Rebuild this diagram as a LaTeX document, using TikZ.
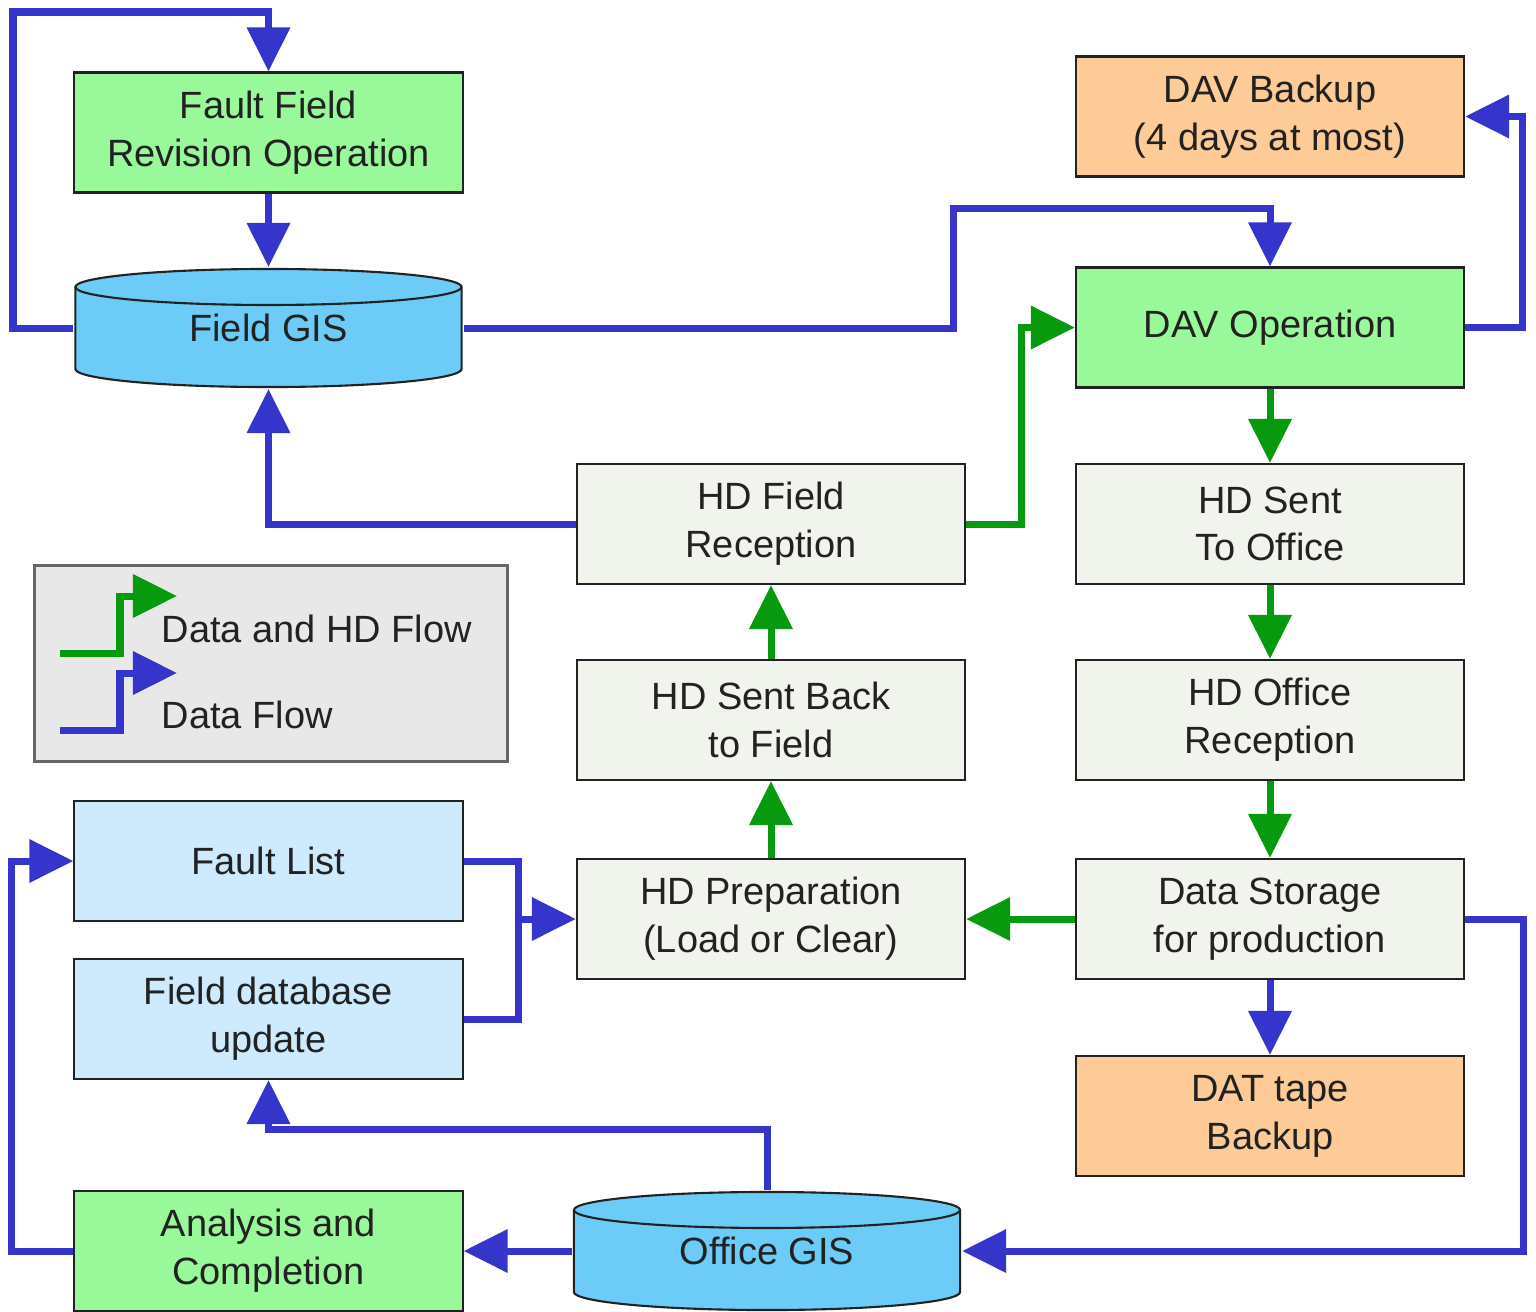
\documentclass[tikz,border=0pt]{standalone}
\usepackage{fontspec}
\setmainfont{Liberation Sans}
\usepackage{xcolor}
\usepackage{tikz}
\usetikzlibrary{arrows.meta,positioning,calc}
\definecolor{opgreen}{HTML}{99F899}
\definecolor{gisblue}{HTML}{6CCCF7}
\definecolor{listblue}{HTML}{CDEBFD}
\definecolor{backup}{HTML}{FCCB98}
\definecolor{hdstep}{HTML}{F1F4EC}
\definecolor{legendgray}{HTML}{E8E8E8}
\definecolor{dataflow}{HTML}{3535CC}
\definecolor{hdflow}{HTML}{079A0F}
\definecolor{ink}{HTML}{222222}

\tikzset{
  box/.style={draw=ink, line width=0.6pt, minimum width=3.88cm, minimum height=1.2cm,
    inner sep=0pt, align=center, text=ink, font=\fontsize{10.8}{13.6}\selectfont},
  gisdb/.style={box, draw=none, path picture={
    \draw[ink, line width=0.6pt, fill=gisblue]
      ([shift={(0.01cm,-0.19cm)}]path picture bounding box.north west)
      -- ([shift={(0.01cm,0.19cm)}]path picture bounding box.south west)
      arc[start angle=180, end angle=360, x radius=1.93cm, y radius=0.18cm]
      -- ([shift={(-0.01cm,-0.19cm)}]path picture bounding box.north east)
      arc[start angle=0, end angle=180, x radius=1.93cm, y radius=0.18cm] -- cycle;
    \draw[ink, line width=0.6pt]
      ([shift={(0.01cm,-0.19cm)}]path picture bounding box.north west)
      arc[start angle=180, end angle=360, x radius=1.93cm, y radius=0.18cm];
  }},
  dline/.style={draw=dataflow, line width=0.07cm},
  dflow/.style={dline, -{Triangle[length=0.44cm,width=0.42cm]}},
  hflow/.style={draw=hdflow, line width=0.07cm, -{Triangle[length=0.44cm,width=0.42cm]}},
  lgtext/.style={text=ink, font=\fontsize{10.8}{13.6}\selectfont, inner sep=0pt}
}

\begin{document}
\begin{tikzpicture}[x=0.01cm, y=-0.01cm]
\useasboundingbox (0,0) rectangle (1536,1312);

% --- Left column ---
\node[box, fill=opgreen] (ffro) at (268.5,132.5) {Fault Field\\Revision Operation};
\node[gisdb] (fgis) at (268.5,328) {Field GIS};
\node[box, fill=listblue] (flist) at (268.5,861) {Fault List};
\node[box, fill=listblue] (fdu) at (268.5,1019) {Field database\\update};
\node[box, fill=opgreen] (acomp) at (268.5,1251) {Analysis and\\Completion};

% --- Middle column ---
\node[box, fill=hdstep] (hdfr) at (771,524) {HD Field\\Reception};
\node[box, fill=hdstep] (hdsb) at (771,720) {HD Sent Back\\to Field};
\node[box, fill=hdstep] (hdprep) at (771,919) {HD Preparation\\(Load or Clear)};
\node[gisdb] (ogis) at (767,1251) {Office GIS};

% --- Right column ---
\node[box, fill=backup] (dbk) at (1270,116.5) {DAV Backup\\(4 days at most)};
\node[box, fill=opgreen] (davop) at (1270,327.5) {DAV Operation};
\node[box, fill=hdstep] (hdsto) at (1270,524) {HD Sent\\To Office};
\node[box, fill=hdstep] (hdor) at (1270,720) {HD Office\\Reception};
\node[box, fill=hdstep] (dstore) at (1270,919) {Data Storage\\for production};
\node[box, fill=backup] (dat) at (1270,1116) {DAT tape\\Backup};

% --- Legend ---
\node[draw=gray!80!black, line width=0.8pt, fill=legendgray, minimum width=4.72cm,
  minimum height=1.96cm, inner sep=0pt] (legend) at (271,663.5) {};
\draw[hflow] (60,653) -| (120,596) -- (177,596);
\draw[dflow] (60,730) -| (120,673) -- (177,673);
\node[lgtext, anchor=base west] (lghd) at (161,642) {Data and HD Flow};
\node[lgtext, anchor=base west] (lgdata) at (161,728) {Data Flow};

% Data flow (blue)
\draw[dflow] (fgis.west) -| (13,12) -| (ffro.north);
\draw[dflow] (ffro.south) -- (fgis.north);
\draw[dflow] (fgis.east) -| (953,208) -| (davop.north);
\draw[dflow] (davop.east) -| (1522,116.5) -- (dbk.east);
\draw[dflow] (hdfr.west) -| (fgis.south);
\coordinate (merge) at (518,919);
\draw[dline] (flist.east) -| (merge);
\draw[dline] (fdu.east) -| (merge);
\draw[dflow] (merge) -- (hdprep.west);
\draw[dflow] (dstore.south) -- (dat.north);
\draw[dflow] (dstore.east) -- ++(58,0) |- (ogis.east);
\draw[dflow] (ogis.north) -- ++(0,-60) -| (fdu.south);
\draw[dflow] (ogis.west) -- (acomp.east);
\draw[dflow] (acomp.west) -- ++(-62,0) |- (flist.west);

% Data and HD flow (green)
\draw[hflow] (hdfr.east) -- ++(55,0) |- (davop.west);
\draw[hflow] (davop.south) -- (hdsto.north);
\draw[hflow] (hdsto.south) -- (hdor.north);
\draw[hflow] (hdor.south) -- (dstore.north);
\draw[hflow] (dstore.west) -- (hdprep.east);
\draw[hflow] (hdprep.north) -- (hdsb.south);
\draw[hflow] (hdsb.north) -- (hdfr.south);
\end{tikzpicture}
\end{document}
